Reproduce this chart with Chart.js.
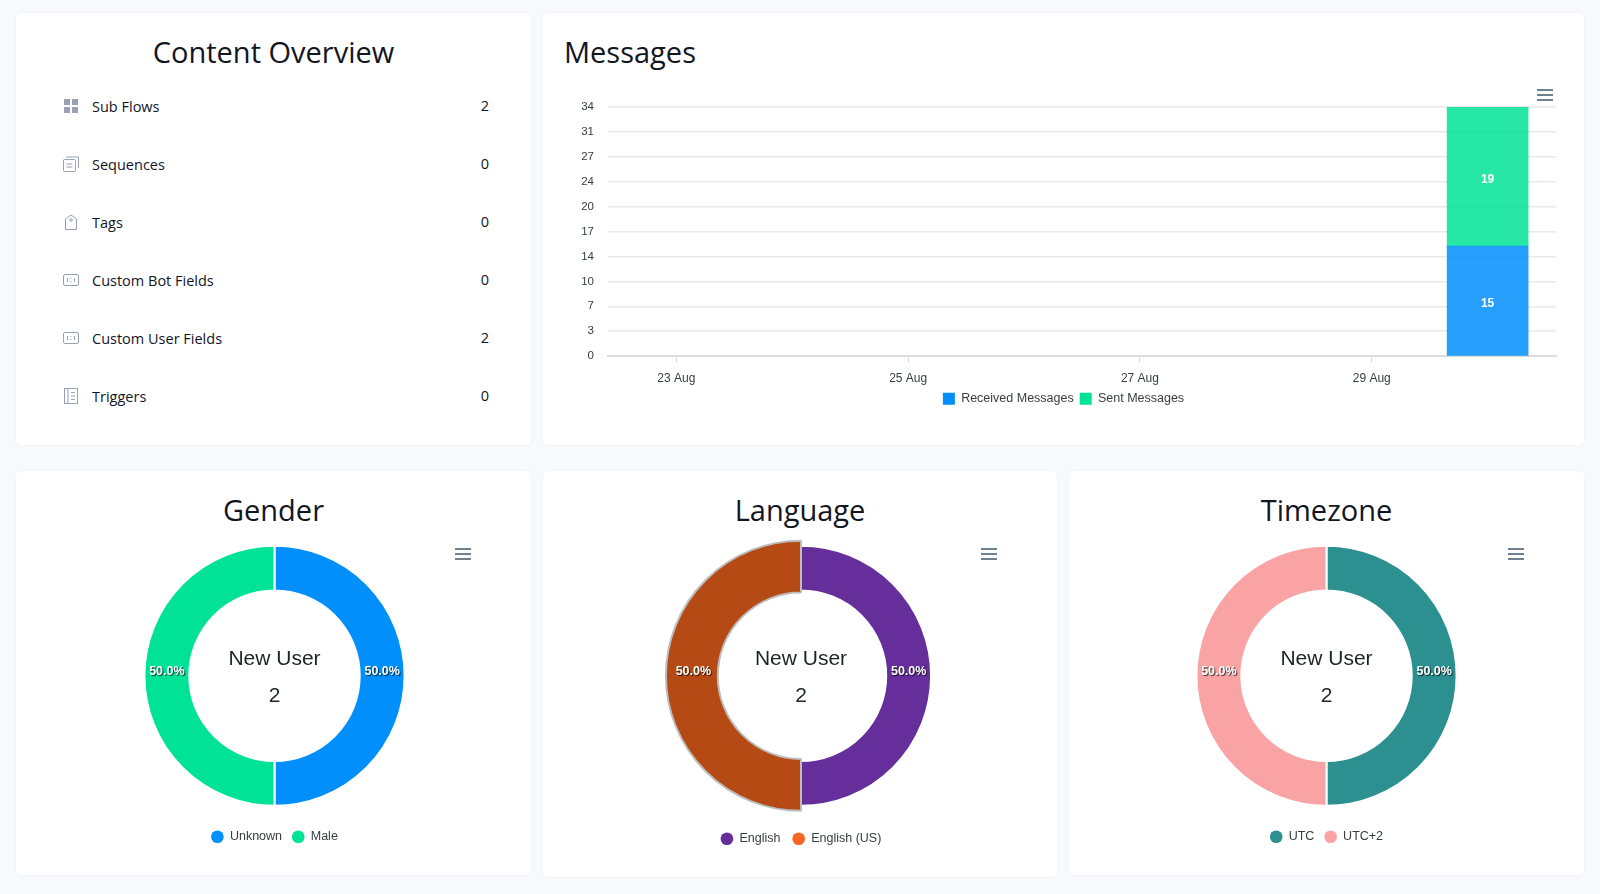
<!DOCTYPE html>
<html>
<head>
<meta charset="utf-8">
<title>Dashboard</title>
<script src="https://cdn.jsdelivr.net/npm/chart.js@4/dist/chart.umd.min.js"></script>
<style>
    html, body { margin: 0; padding: 0; width: 1600px; height: 894px; overflow: hidden; background: #f8f9fc; }
    body { position: relative; font-family: "Open Sans", sans-serif; color: #12161f; }
    .card { position: absolute; background: #fff; border-radius: 5px; box-shadow: 0 0 2px rgba(60,70,110,.08); }
    .card h2 { position: absolute; left: 0; right: 0; top: 19px; margin: 0; text-align: center; font-size: 29px; line-height: 40px; font-weight: 400; }
    .chart-box { position: absolute; }
    .menu { position: absolute; width: 16px; height: 8px; border-top: 2px solid #6e8192; border-bottom: 2px solid #6e8192; }
    .menu::after { content: ''; position: absolute; left: 0; right: 0; top: 3px; height: 2px; background: #6e8192; }
    .row { position: absolute; left: 0; right: 0; height: 24px; line-height: 24px; font-size: 14.5px; }
    .row svg { position: absolute; left: 47px; top: 3px; }
    .row .name { position: absolute; left: 76px; }
    .row .count { position: absolute; left: 464px; width: 10px; text-align: center; top: -1px; }
</style>
</head>
<body>

<div class="card" style="left:16px;top:13px;width:515px;height:432px">
    <h2>Content Overview</h2>
    <div id="rows"></div>
</div>

<div class="card" style="left:543px;top:13px;width:1041px;height:432px">
    <h2 style="text-align:left;left:21px">Messages</h2>
    <div class="chart-box" style="left:0;top:67px;width:1041px;height:343px"><canvas id="messagesChart"></canvas></div>
    <div class="menu" style="left:994px;top:76px"></div>
</div>

<div class="card" style="left:16px;top:471px;width:515px;height:404px">
    <h2>Gender</h2>
    <div class="chart-box" style="left:1px;top:59px;width:515px;height:323px"><canvas id="genderChart"></canvas></div>
    <div class="menu" style="left:439px;top:77px"></div>
</div>

<div class="card" style="left:543px;top:471px;width:514px;height:406px">
    <h2>Language</h2>
    <div class="chart-box" style="left:1px;top:59px;width:514px;height:325px"><canvas id="languageChart"></canvas></div>
    <div class="menu" style="left:438px;top:77px"></div>
</div>

<div class="card" style="left:1069px;top:471px;width:515px;height:404px">
    <h2>Timezone</h2>
    <div class="chart-box" style="left:0;top:59px;width:515px;height:323px"><canvas id="timezoneChart"></canvas></div>
    <div class="menu" style="left:439px;top:77px"></div>
</div>

<script>
// Content overview list
const contentLabels = ['Sub Flows', 'Sequences', 'Tags', 'Custom Bot Fields', 'Custom User Fields', 'Triggers'];
const contentCounts = [2, 0, 0, 0, 2, 0];
const contentTops = [82, 140, 198, 256, 314, 372];

// Messages chart
const messageDays = [23, 24, 25, 26, 27, 28, 29, 30];
const receivedMessages = [0, 0, 0, 0, 0, 0, 0, 15];
const sentMessages = [0, 0, 0, 0, 0, 0, 0, 19];
const xTickDays = [23, 25, 27, 29];
const xTickLabels = ['23 Aug', '25 Aug', '27 Aug', '29 Aug'];
const yTickValues = [0, 3.4, 6.8, 10.2, 13.6, 17, 20.4, 23.8, 27.2, 30.6, 34];
const yTickLabels = ['0', '3', '7', '10', '14', '17', '20', '24', '27', '31', '34'];

// Donuts
const genderLabels = ['Unknown', 'Male'];
const genderValues = [1, 1];
const languageLabels = ['English', 'English (US)'];
const languageValues = [1, 1];
const timezoneLabels = ['UTC', 'UTC+2'];
const timezoneValues = [1, 1];
const centerTitle = 'New User';
const centerValue = '2';

const sansFont = '"Liberation Sans", Arial, sans-serif';
const iconColor = '#98a1b3';

const icons = [
    `<rect x="1" y="1" width="6" height="6" fill="${iconColor}"/><rect x="9" y="1" width="6" height="6" fill="${iconColor}"/><rect x="1" y="9" width="6" height="6" fill="${iconColor}"/><rect x="9" y="9" width="6" height="6" fill="${iconColor}"/>`,
    `<rect x="0.5" y="3.5" width="12" height="12" rx="1" fill="none" stroke="${iconColor}"/><path d="M3 1h12.5v11M3.5 8h6M3.5 11h6" fill="none" stroke="${iconColor}"/>`,
    `<path d="M2.5 15.5V5L8 1l5.5 4v10.500z" fill="none" stroke="${iconColor}" stroke-linejoin="round"/><circle cx="8" cy="6" r="1.300" fill="none" stroke="${iconColor}"/>`,
    `<rect x="0.5" y="2.500" width="15" height="11" rx="1.500" fill="none" stroke="${iconColor}"/><path d="M4.500 6v4M8 6v1M8 9v1M11.500 6v4" stroke="${iconColor}"/>`,
    `<rect x="0.5" y="2.500" width="15" height="11" rx="1.500" fill="none" stroke="${iconColor}"/><path d="M4.500 6v4M8 6v1M8 9v1M11.500 6v4" stroke="${iconColor}"/>`,
    `<rect x="1.500" y="0.500" width="13" height="15" fill="none" stroke="${iconColor}"/><path d="M5 1v14M8 4.500h4M8 8h4M8 11.500h4" stroke="${iconColor}"/>`
];

document.getElementById('rows').innerHTML = contentLabels.map((name, i) =>
    `<div class="row" style="top:${contentTops[i]}px">` +
    `<svg width="16" height="16" viewBox="0 0 16 16">${icons[i]}</svg>` +
    `<span class="name">${name}</span><span class="count">${contentCounts[i]}</span></div>`
).join('');

Chart.defaults.animation = false;
Chart.defaults.events = [];
Chart.defaults.font.family = sansFont;
Chart.defaults.plugins.tooltip.enabled = false;

// Values written in the middle of each stacked bar, legend pulled up under the axis
const barLabelPlugin = {
    id: 'barLabels',
    afterLayout(chart) {
        chart.legend.top -= 8;
    },
    afterDatasetsDraw(chart) {
        const ctx = chart.ctx;
        ctx.save();
        ctx.font = 'bold 12px ' + sansFont;
        ctx.fillStyle = '#fff';
        ctx.textAlign = 'center';
        ctx.textBaseline = 'middle';
        chart.data.datasets.forEach((ds, d) => {
            chart.getDatasetMeta(d).data.forEach((bar, i) => {
                if (!ds.data[i].y) return;
                const p = bar.getCenterPoint();
                ctx.fillText(ds.data[i].y, p.x, p.y + 3);
            });
        });
        ctx.restore();
    }
};

// Zero days draw no bar at all
const barPoints = values => messageDays.map((d, i) => ({ x: d, y: values[i] || null }));

new Chart(document.getElementById('messagesChart'), {
    type: 'bar',
    data: {
        datasets: [
            { label: 'Received Messages', data: barPoints(receivedMessages), backgroundColor: 'rgba(0,143,251,.85)', legendColor: '#008ffb', barThickness: 81 },
            { label: 'Sent Messages', data: barPoints(sentMessages), backgroundColor: 'rgba(0,227,150,.85)', legendColor: '#00e396', barThickness: 81 }
        ]
    },
    options: {
        responsive: true,
        maintainAspectRatio: false,
        layout: { padding: { left: 28, right: 28, top: 27, bottom: 0 } },
        plugins: {
            legend: {
                position: 'bottom',
                labels: {
                    boxWidth: 12, boxHeight: 12, padding: 6, color: '#373d3f', font: { size: 12.5 },
                    generateLabels: chart => chart.data.datasets.map((ds, i) => ({
                        text: ds.label, fillStyle: ds.legendColor, strokeStyle: ds.legendColor, lineWidth: 0, datasetIndex: i, fontColor: '#373d3f'
                    }))
                }
            }
        },
        scales: {
            x: {
                type: 'linear',
                stacked: true,
                offset: false,
                min: 22.41,
                max: 30.59,
                afterBuildTicks: scale => { scale.ticks = xTickDays.map(v => ({ value: v })); },
                grid: { offset: false, drawOnChartArea: false, color: '#d9d9d9', tickLength: 6 },
                border: { color: '#dcdcdc', width: 2 },
                ticks: {
                    autoSkip: false, maxRotation: 0, color: '#373d3f', font: { size: 12 }, padding: 9,
                    callback: value => xTickLabels[xTickDays.indexOf(value)]
                }
            },
            y: {
                stacked: true,
                min: 0,
                max: 34,
                afterBuildTicks: scale => { scale.ticks = yTickValues.map(v => ({ value: v })); },
                afterFit: scale => { scale.width = 37; },
                grid: { color: '#e9e9e9', lineWidth: 1.5, drawTicks: false },
                border: { display: false },
                ticks: {
                    autoSkip: false, color: '#373d3f', font: { size: 11.5 }, padding: 14,
                    callback: (value, i) => yTickLabels[i]
                }
            }
        }
    },
    plugins: [barLabelPlugin]
});

// One donut: percent labels on the ring, totals in the hole
function donut(id, labels, values, colors, legendColors, opts) {
    const total = values.reduce((a, b) => a + b, 0);
    new Chart(document.getElementById(id), {
        type: 'doughnut',
        data: {
            labels: labels,
            datasets: [{
                data: values,
                backgroundColor: colors,
                borderColor: opts.borderColors || '#fff',
                borderWidth: 2
            }]
        },
        options: {
            responsive: true,
            maintainAspectRatio: false,
            radius: '90.5%',
            cutout: '65.5%',
            layout: { padding: { top: 1 } },
            plugins: {
                legend: {
                    position: 'bottom',
                    labels: {
                        usePointStyle: true, pointStyle: 'circle', boxHeight: 9,
                        padding: opts.legendPadding, color: '#373d3f', font: { size: 12.5 },
                        generateLabels: () => labels.map((text, i) => ({
                            text: text, fillStyle: legendColors[i], strokeStyle: legendColors[i], lineWidth: 0, pointStyle: 'circle', index: i, fontColor: '#373d3f'
                        }))
                    }
                }
            }
        },
        plugins: [{
            id: 'donutText',
            beforeDatasetsDraw(chart) {
                // Selected slice sits proud of the ring
                if (opts.grow) {
                    const arc = chart.getDatasetMeta(0).data[opts.grow.index];
                    arc.outerRadius += opts.grow.outer;
                    arc.innerRadius -= opts.grow.inner;
                }
            },
            afterDatasetsDraw(chart) {
                const ctx = chart.ctx;
                const meta = chart.getDatasetMeta(0);
                const r = (meta.controller.outerRadius + meta.controller.innerRadius) / 2;
                ctx.save();
                ctx.textAlign = 'center';
                ctx.textBaseline = 'middle';
                ctx.fillStyle = '#fff';
                ctx.font = 'bold 12.5px ' + sansFont;
                ctx.shadowColor = 'rgba(0,0,0,.75)';
                ctx.shadowBlur = 1;
                ctx.shadowOffsetX = 1;
                ctx.shadowOffsetY = 1;
                meta.data.forEach((arc, i) => {
                    const mid = (arc.startAngle + arc.endAngle) / 2;
                    ctx.fillText((values[i] / total * 100).toFixed(1) + '%', arc.x + Math.cos(mid) * r, arc.y + Math.sin(mid) * r - 4);
                });
                ctx.shadowColor = 'transparent';
                ctx.fillStyle = '#1f2226';
                ctx.font = '21px ' + sansFont;
                ctx.fillText(centerTitle, meta.data[0].x, meta.data[0].y - 17);
                ctx.fillText(centerValue, meta.data[0].x, meta.data[0].y + 20);
                ctx.restore();
            }
        }]
    });
}

donut('genderChart', genderLabels, genderValues, ['#008ffb', '#00e396'], ['#008ffb', '#00e396'], { legendPadding: 10 });
donut('languageChart', languageLabels, languageValues, ['#662e9b', '#b54a14'], ['#662e9b', '#f86624'], {
    legendPadding: 12, borderColors: ['#fff', '#bdbdbd'], grow: { index: 1, outer: 5, inner: 2 }
});
donut('timezoneChart', timezoneLabels, timezoneValues, ['#2b908f', '#f9a3a4'], ['#2b908f', '#f9a3a4'], { legendPadding: 10 });
</script>
</body>
</html>
